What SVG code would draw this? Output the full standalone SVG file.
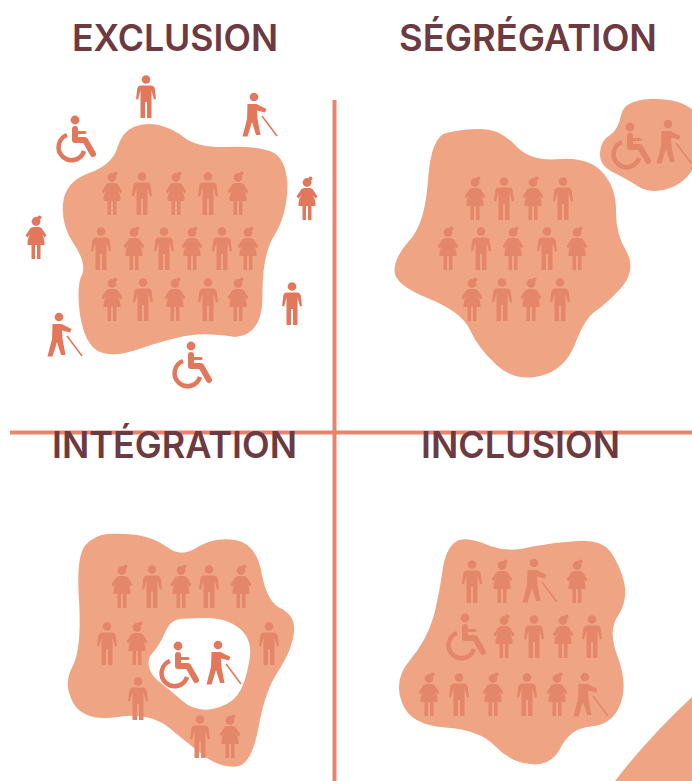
<svg xmlns="http://www.w3.org/2000/svg" xmlns:xlink="http://www.w3.org/1999/xlink" width="692" height="781" viewBox="0 0 692 781">
<style>
.blob{fill:#EFA583}
.out{color:#E3775B;fill:#E3775B;filter:url(#soft1)}
.in{color:#E4866B;fill:#E4866B;filter:url(#soft2)}
.t{font-family:"Inter","Liberation Sans",sans-serif;font-size:37px;font-weight:600;fill:#6E3A41}
.rule{stroke:#E8846C;stroke-width:4;fill:none}
</style>
<defs>
<filter id="soft1" x="-5%" y="-5%" width="110%" height="110%"><feGaussianBlur stdDeviation="0.35"/></filter>
<filter id="soft2" x="-5%" y="-5%" width="110%" height="110%"><feGaussianBlur stdDeviation="0.6"/></filter>
<g id="m">
<circle cx="0" cy="4.5" r="4.3"/>
<path d="M-5 10.5H5Q8 10.5 8.7 13.5L10 24L8 24.5L5.5 15.5V43H1V27H-1V43H-5.5V15.5L-8 24.5L-10 24L-8.7 13.5Q-8 10.5-5 10.5Z"/>
</g>
<g id="w">
<circle cx="0" cy="5.5" r="4.4"/>
<circle cx="3.5" cy="1.6" r="2"/>
<path d="M-3 11H3L5.5 12L10.5 19.5L8.5 21.5L5.5 18Q9 23 8.5 29H4.5V43H1V29H-1V43H-4.5V29H-8.5Q-9 23-5.5 18L-8.5 21.5L-10.5 19.5L-5.5 12Z"/>
</g>
<g id="c">
<circle cx="0" cy="0" r="4.4"/>
<path d="M0 9V20H10L18 34" fill="none" stroke="currentColor" stroke-width="6" stroke-linecap="round" stroke-linejoin="round"/>
<path d="M1 12.5H10" fill="none" stroke="currentColor" stroke-width="3" stroke-linecap="round"/>
<path d="M-8 15A13 13 0 1 0 9 31" fill="none" stroke="currentColor" stroke-width="4.5"/>
</g>
<g id="b">
<circle cx="0" cy="0" r="4.3"/>
<path d="M-6.5 7H2.5L12.5 12L11 15.5L3 13.5L3.5 22L6.5 38H2L-2 25L-6.5 39.5H-11.5L-7 22Z"/>
<path d="M8 19L23 39" fill="none" stroke="currentColor" stroke-width="1.5"/>
</g>
</defs>

<g id="rules">
<path class="rule" d="M334.5 100V781"/>
<path class="rule" d="M10 432.5H692"/>
</g>

<g id="corner"><path class="blob" d="M692 697Q648 738 615 781H692Z"/></g>

<g id="exclusion">
<text class="t" x="72" y="51" textLength="206" lengthAdjust="spacingAndGlyphs">EXCLUSION</text>
<path class="blob" d="M133.5 127Q145 122 158.5 125Q172 128 185 138Q198 148 228 147Q258 146 272 152Q286 158 287.5 185Q287 215 274.5 235Q262 255 262.5 295Q263 335 235 337Q205 332 185 336Q165 340 139 349Q113 358 99 351.5Q85 345 80 315Q76 285 82.5 273.5Q86 262 73.5 243.5Q61 225 63 203.5Q65 182 88 173.5Q112 165 117 148.5Q122 132 133.5 127Z"/>
<g class="in">
<use href="#w" x="112" y="172"/><use href="#m" x="142" y="172"/><use href="#w" x="176" y="172"/><use href="#m" x="208" y="172"/><use href="#w" x="238" y="172"/>
<use href="#m" x="101" y="227"/><use href="#w" x="134" y="227"/><use href="#m" x="164" y="227"/><use href="#w" x="192" y="227"/><use href="#m" x="222" y="227"/><use href="#w" x="248" y="227"/>
<use href="#w" x="112" y="278"/><use href="#m" x="143" y="278"/><use href="#w" x="175" y="278"/><use href="#m" x="208" y="278"/><use href="#w" x="238" y="278"/>
</g>
<g class="out">
<use href="#m" x="146" y="75"/>
<use href="#b" x="254" y="97"/>
<use href="#c" x="75" y="120"/>
<use href="#w" x="307" y="177"/>
<use href="#w" x="36" y="216"/>
<use href="#m" x="292" y="282"/>
<use href="#b" x="59" y="317"/>
<use href="#c" x="191" y="346"/>
</g>
</g>

<g id="segregation">
<text class="t" x="399" y="51" textLength="258" lengthAdjust="spacingAndGlyphs">SÉGRÉGATION</text>
<path class="blob" d="M481 129Q500 129 515 145Q530 162 560 159Q590 157 604 174Q617 190 616 212.5Q616 235 627 252.5Q636 270 621.5 287.5Q605 305 595 311.5Q585 318 575 344Q565 370 540 376Q515 382 496.5 365Q478 348 470 330Q462 312 428.5 298.5Q395 285 394.5 271.5Q394 258 408.5 241.5Q425 225 428 180Q431 137 446 133Q462 129 481 129Z"/>
<path class="blob" d="M651 99Q680 98 692.5 110Q705 125 700 150Q695 175 675 186Q655 195 640 187.5Q625 178 611.5 171.5Q599 165 600 152.5Q601 140 610 135Q618 130 621 115Q624 100 651 99Z"/>
<g class="in">
<use href="#w" x="475" y="177"/><use href="#m" x="504" y="177"/><use href="#w" x="533" y="177"/><use href="#m" x="563" y="177"/>
<use href="#w" x="448" y="227"/><use href="#m" x="481" y="227"/><use href="#w" x="513" y="227"/><use href="#m" x="547" y="227"/><use href="#w" x="577" y="227"/>
<use href="#w" x="472" y="278"/><use href="#m" x="502" y="278"/><use href="#w" x="531" y="278"/><use href="#m" x="560" y="278"/>
<use href="#c" x="630" y="127"/><use href="#b" x="668" y="124"/>
</g>
</g>

<g id="integration">
<text class="t" x="52" y="458" textLength="245" lengthAdjust="spacingAndGlyphs">INTÉGRATION</text>
<path class="blob" d="M137.5 535Q155 538 168.5 548Q182 558 198.5 546.5Q215 537 235 540Q255 543 261 570Q266 600 279 607.5Q296 615 294 632.5Q292 650 279 670Q265 690 258.5 727.5Q252 763 238.5 766Q225 769 207.5 758.5Q190 745 170 728.5Q150 712 117.5 717Q85 722 73.5 703.5Q63 685 72 667.5Q82 650 79 600Q76 556 85.5 545Q95 535 107.5 534Q120 533 137.5 535Z"/>
<path fill="#fff" d="M205 618Q225 617 239 628Q254 640 249 662.5Q245 685 237.5 695Q230 705 212.5 709Q195 712 182.5 701Q170 690 157 680Q145 668 150 656Q160 645 165 632.5Q170 621 177.5 619.5Q185 618 205 618Z"/>
<g class="in">
<use href="#w" x="122" y="565"/><use href="#m" x="152" y="565"/><use href="#w" x="181" y="565"/><use href="#m" x="209" y="565"/><use href="#w" x="241" y="565"/>
<use href="#m" x="107" y="622"/><use href="#w" x="137" y="622"/><use href="#m" x="269" y="622"/>
<use href="#m" x="138" y="677"/>
<use href="#m" x="200" y="715"/><use href="#w" x="230" y="715"/>
</g>
<g class="out"><use href="#c" x="178" y="646"/><use href="#b" x="218" y="645"/></g>
</g>

<g id="inclusion">
<text class="t" x="421" y="458" textLength="199" lengthAdjust="spacingAndGlyphs">INCLUSION</text>
<path class="blob" d="M490 546Q510 553 532.5 546.5Q555 542 577.5 541Q600 539 610 551Q620 565 624 582Q628 600 618.5 615Q607 630 618 657.5Q628 685 620 705Q612 725 591 726.5Q570 728 560 749Q550 767 530 764Q510 762 495 746Q480 730 445 727.5Q410 725 402 702.5Q393 680 410 660Q427 640 434 615Q440 590 443 567Q447 545 459 540Q470 537 490 546Z"/>
<g class="in">
<use href="#m" x="472" y="560"/><use href="#w" x="502" y="560"/><use href="#b" x="534" y="563"/><use href="#w" x="577" y="560"/>
<use href="#c" x="465" y="618"/><use href="#w" x="504" y="615"/><use href="#m" x="534" y="615"/><use href="#w" x="563" y="615"/><use href="#m" x="592" y="615"/>
<use href="#w" x="429" y="673"/><use href="#m" x="459" y="673"/><use href="#w" x="493" y="673"/><use href="#m" x="527" y="673"/><use href="#w" x="557" y="673"/><use href="#b" x="585" y="677"/>
</g>
</g>
</svg>
